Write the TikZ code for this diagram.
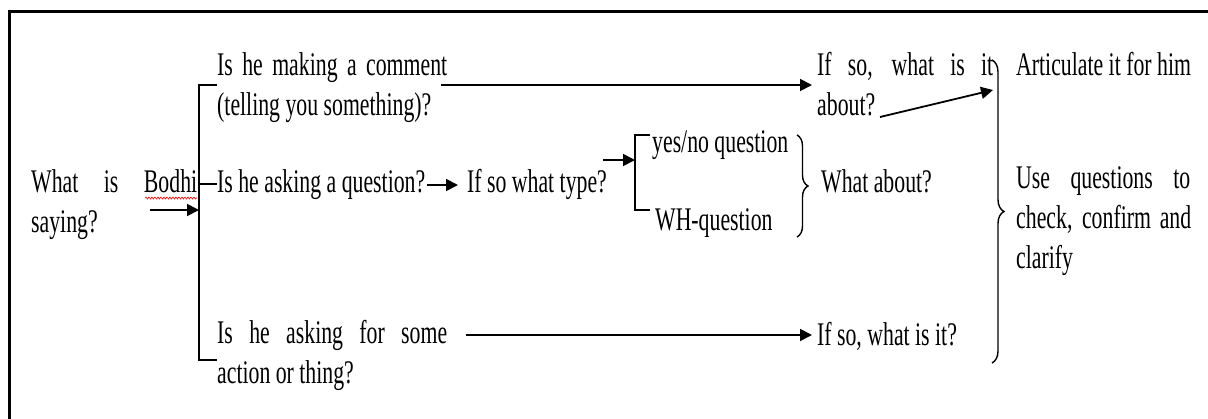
\documentclass[tikz,border=0pt]{standalone}
\usepackage{fontspec}
\setmainfont{Liberation Serif}[FakeStretch=0.66]
\usetikzlibrary{arrows.meta,decorations.pathreplacing,decorations.pathmorphing}

\begin{document}
\begin{tikzpicture}[x=1pt,y=-1pt,
    txt/.style={anchor=base west,inner sep=0pt,align=left,font=\fontsize{33}{40}\selectfont},
    arr/.style={line width=1.8pt,-{Triangle[length=12pt,width=12pt]}},
    brk/.style={line width=1.4pt},
    brc/.style={line width=1.4pt,decorate,decoration={brace,amplitude=#1}}]
    \useasboundingbox (0,0) rectangle (1208,418);
    \clip (0,0) rectangle (1208,418);
    % frame
    \draw [line width=3pt] (9,430) -- (9,11) -- (1220,11);
    % text (multi-line nodes sit on their last line)
    \node [txt] (what) at (31,232) {\makebox[166pt][s]{What is Bodhi}\\saying?};
    \node [txt] (comment) at (217,115) {\makebox[230pt][s]{Is he making a comment}\\(telling you something)?};
    \node [txt] (question) at (217,192) {Is he asking a question?};
    \node [txt] (thing) at (217,383) {\makebox[230pt][s]{Is he asking for some}\\action or thing?};
    \node [txt] (type) at (467,192) {If so what type?};
    \node [txt] (yesno) at (652,152) {yes/no question};
    \node [txt] (wh) at (655,230) {WH-question};
    \node [txt] (whatabout) at (821,192) {What about?};
    \node [txt] (about) at (817,115) {\makebox[176pt][s]{If so, what is it}\\about?};
    \node [txt] (whatisit) at (817,345) {If so, what is it?};
    \node [txt] (artic) at (1016,75) {Articulate it for him};
    \node [txt] (check) at (1016,268) {\makebox[174pt][s]{Use questions to}\\\makebox[175pt][s]{check, confirm and}\\clarify};
    % spell-check mark
    \draw [red,line width=0.6pt,decorate,decoration={snake,amplitude=1pt,segment length=3pt}] (145,198) -- (197,198);
    % brackets
    \coordinate (top1) at (199,85);
    \coordinate (bot1) at (199,360);
    \coordinate (in1) at (199,210);
    \draw [brk] (top1 -| comment.west) -- (top1) -- (bot1) -- (bot1 -| thing.west);
    \draw [brk] (question.west -| top1) -- (question.west);
    \coordinate (top2) at (635,135);
    \coordinate (bot2) at (635,210);
    \coordinate (in2) at (635,160);
    \draw [brk] (650,135) -- (top2) -- (bot2) -- (650,210);
    \draw [brc=11pt] (797,135) -- (797,237);
    \draw [brc=12pt] (992,60) -- (992,363);
    % arrows
    \coordinate (from0) at (150,210);
    \draw [arr] (from0) -- (in1);
    \coordinate (from1) at (441,85);
    \draw [arr] (from1) -- ([xshift=-5pt]about.west |- from1);
    \draw [arr] ([xshift=2pt]question.east |- 0,185) -- ([xshift=-9pt]type.west |- 0,185);
    \coordinate (from3) at (603,160);
    \draw [arr] (from3) -- (in2);
    \coordinate (from4) at (880,117);
    \coordinate (to4) at (993,90);
    \draw [arr] (from4) -- (to4);
    \coordinate (from5) at (466,335);
    \draw [arr] (from5) -- ([xshift=-5pt]whatisit.west |- from5);
\end{tikzpicture}
\end{document}
